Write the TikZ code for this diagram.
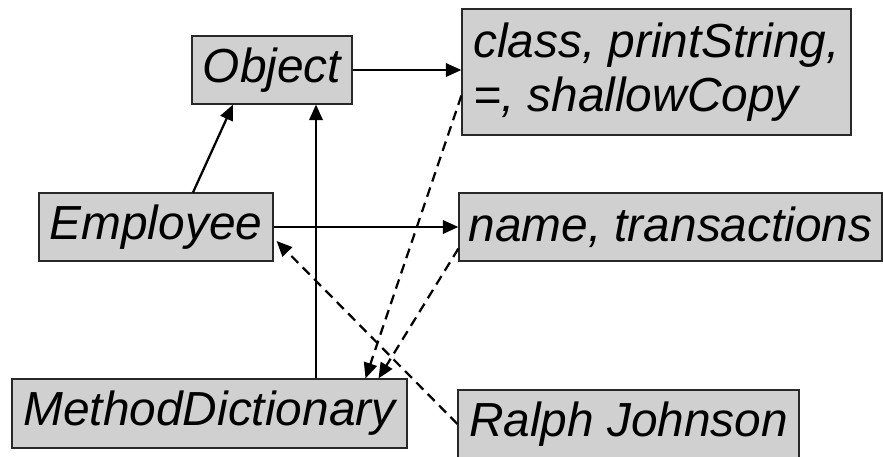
\documentclass[tikz,border=0pt]{standalone}
\usepackage{fontspec}
\setmainfont{Liberation Sans}
\usepackage{xcolor}
\usepackage{tikz}
\usetikzlibrary{arrows.meta,calc}
\definecolor{boxGray}{RGB}{208,208,208}
\definecolor{boxLine}{RGB}{40,40,40}

\begin{document}
\begin{tikzpicture}[
  x=0.025cm, y=-0.025cm,
  font=\fontsize{34}{38}\selectfont\itshape,
  bx/.style={draw=boxLine, line width=0.8pt, fill=boxGray, inner sep=0pt, minimum height=1.7cm, align=left},
  ar/.style={-{Triangle[length=11pt,width=9.5pt]}, line width=1.6pt},
  dar/.style={ar, dash pattern=on 7pt off 4.5pt}
]
\useasboundingbox (0,0) rectangle (883,456);
\node[bx, minimum width=4cm] (obj) at (272,70) {Object};
\node[bx, minimum width=9.725cm, minimum height=3.15cm] (cls) at (656.5,72) {class, printString,\\=, shallowCopy};
\node[bx, minimum width=5.85cm] (emp) at (156,227) {Employee};
\node[bx, minimum width=10.575cm] (nm) at (670.5,227) {name, transactions};
\node[bx, minimum width=9.875cm, minimum height=1.725cm] (md) at (209.5,413.5) {MethodDictionary};
\node[bx, minimum width=8.525cm] (rj) at (628.5,424) {Ralph Johnson};
\draw[ar] (obj.east) -- (obj.east -| cls.west);
\draw[ar] ($(emp.north)+(37,0)$) -- ($(obj.south)+(-39,0)$);
\draw[ar] ($(md.north)+(106.5,0)$) coordinate (m) -- (m |- obj.south);
\draw[ar] (emp.east) -- (nm.west);
\draw[dar] ($(cls.south west)+(0,-40)$) -- ($(md.north)+(156,0)$);
\draw[dar] ($(nm.south west)+(0,-13)$) -- ($(md.north)+(169,0)$);
\draw[dar] (rj.west) -- ($(emp.east)+(3,14)$);
\end{tikzpicture}
\end{document}
